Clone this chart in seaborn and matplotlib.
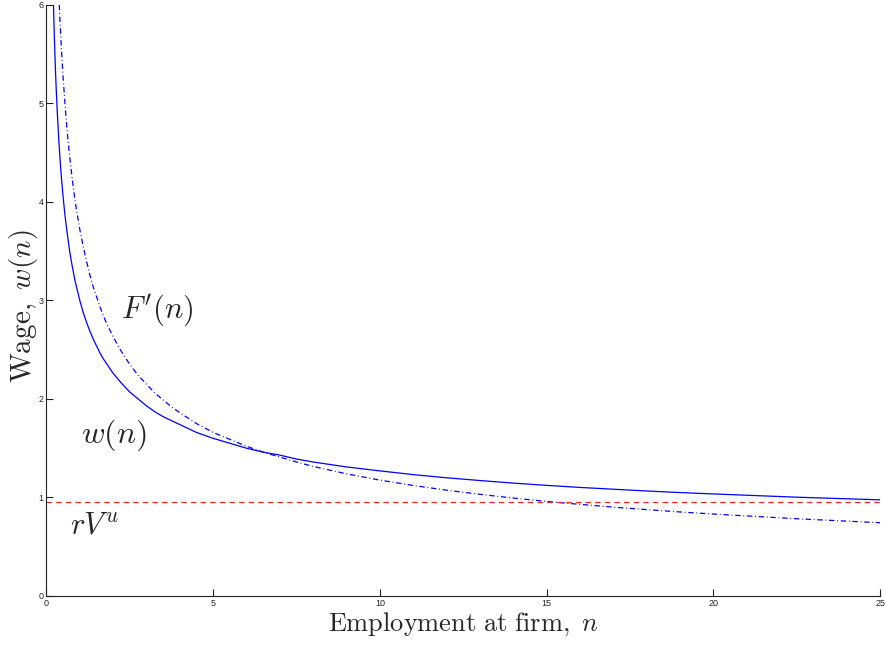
import matplotlib
matplotlib.use("Agg")
import matplotlib.pyplot as plt
import seaborn as sns
import pandas as pd

# values
n_grid = [0.45, 0.5, 0.55, 0.6, 0.65, 0.7, 0.75, 0.8, 0.85, 0.9, 0.95, 1.0, 1.1, 1.2, 1.3,
          1.4, 1.5, 1.6, 1.7, 1.8, 1.9, 2.0, 2.25, 2.5, 2.75, 3.0, 3.25, 3.5, 3.75, 4.0, 4.5,
          5.0, 5.5, 6.0, 6.5, 7.0, 7.5, 8, 9, 10, 11, 12, 13, 14, 15, 16, 17, 18, 19, 20,
          22.5, 25]

n_w = [0.21, 0.23, 0.26, 0.28, 0.30, 0.325, 0.35, 0.375, 0.40, 0.425] + n_grid
wage = [6.00, 5.75, 5.43, 5.25, 5.09, 4.91, 4.75, 4.60, 4.47, 4.35,
        4.24, 4.05, 3.88, 3.74, 3.61, 3.49, 3.39, 3.30, 3.21, 3.14, 3.07, 3.00, 2.88, 2.78,
        2.69, 2.61, 2.54, 2.47, 2.41, 2.36, 2.31, 2.26, 2.16, 2.07, 2.00, 1.93, 1.87, 1.82,
        1.78, 1.74, 1.66, 1.60, 1.55, 1.50, 1.46, 1.43, 1.39, 1.36, 1.31, 1.27, 1.232, 1.200,
        1.172, 1.146, 1.123, 1.102, 1.084, 1.066, 1.050, 1.036, 1.003, 0.976]

n_f = [0.385, 0.40, 0.425] + n_grid
fprime = [6.00, 5.88, 5.71,
          5.54, 5.26, 5.02, 4.80, 4.61, 4.45, 4.30, 4.16, 4.03, 3.92, 3.82, 3.72, 3.55, 3.40,
          3.26, 3.14, 3.04, 2.94, 2.85, 2.77, 2.70, 2.63, 2.48, 2.35, 2.24, 2.15, 2.06, 1.99,
          1.92, 1.86, 1.75, 1.66, 1.59, 1.52, 1.46, 1.41, 1.36, 1.315, 1.240, 1.176, 1.122,
          1.074, 1.032, 0.994, 0.960, 0.930, 0.902, 0.877, 0.853, 0.832, 0.784, 0.744]

n_r = [0, 25]
rvu = [0.95, 0.95]

x_ticks = [0, 5, 10, 15, 20, 25]
y_ticks = [0, 1, 2, 3, 4, 5, 6]

df_w = pd.DataFrame({"n": n_w, "v": wage})
df_f = pd.DataFrame({"n": n_f, "v": fprime})
df_r = pd.DataFrame({"n": n_r, "v": rvu})

sns.set_style("ticks")
plt.rcParams["mathtext.fontset"] = "cm"
plt.rcParams["font.family"] = ["Liberation Sans", "DejaVu Sans"]
plt.rcParams["xtick.direction"] = "in"
plt.rcParams["ytick.direction"] = "in"

fig = plt.figure(figsize=(8.85, 6.46), dpi=100)
ax = fig.add_axes([0.0525, 0.0774, 0.942, 0.915])

sns.lineplot(data=df_w, x="n", y="v", ax=ax, color="#0000ff", lw=0.9)
sns.lineplot(data=df_f, x="n", y="v", ax=ax, color="#0000ff", lw=0.9).lines[-1].set_dashes((4.3, 2.2, 0.7, 2.2))
sns.lineplot(data=df_r, x="n", y="v", ax=ax, color="#ff2020", lw=0.9).lines[-1].set_dashes((4.3, 3.4))

ax.set_xlim(0, 25)
ax.set_ylim(0, 6)
ax.set_xticks(x_ticks)
ax.set_yticks(y_ticks)
ax.tick_params(axis="both", labelsize=6.5, length=5, width=0.8, pad=2, colors="#222222")
sns.despine(ax=ax)
for s in ["left", "bottom"]:
    ax.spines[s].set_linewidth(0.8)
    ax.spines[s].set_color("#222222")

ax.set_xlabel(r"$\mathrm{Employment\ at\ firm,}\ n$", fontsize=19, labelpad=2)
ax.set_ylabel(r"$\mathrm{Wage,}\ w(n)$", fontsize=21, labelpad=0)
ax.yaxis.set_label_coords(-0.008, 0.49)

ax.text(2.25, 2.9, r"$F'(n)$", fontsize=22, va="center", ha="left")
ax.text(1.05, 1.63, r"$w(n)$", fontsize=23, va="center", ha="left")
ax.text(0.7, 0.72, r"$rV^u$", fontsize=22, va="center", ha="left")

fig.savefig("out.png", dpi=100)
